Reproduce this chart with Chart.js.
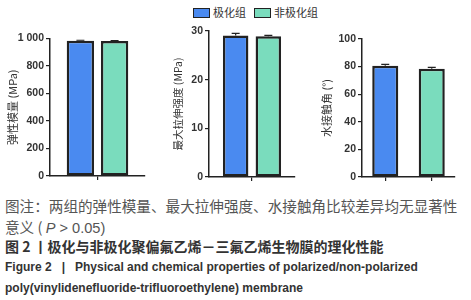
<!DOCTYPE html>
<html>
<head>
<meta charset="utf-8">
<script src="https://cdn.jsdelivr.net/npm/chart.js@4"></script>
<style>
  body { margin: 0; width: 471px; height: 300px; background: #fff; position: relative; overflow: hidden; font-family: 'Noto Sans CJK SC', sans-serif; }
  .pane { position: absolute; }
  #legend { position: absolute; top: 4px; left: 193px; font-size: 11px; color: #333; white-space: nowrap; line-height: 16px; }
  #legend span.box { display: inline-block; width: 15px; height: 8px; border: 1px solid #222; vertical-align: -1px; margin-right: 3px; }
  #legend span.item { margin-right: 8px; }
  .cap { position: absolute; left: 5px; white-space: nowrap; line-height: 16px; }
  .cn { font-size: 14.6px; color: #555; }
  .cnb { font-size: 14px; color: #333; font-weight: bold; }
  .en { font-family: 'Liberation Sans', sans-serif; font-weight: bold; font-size: 12px; color: #333; transform-origin: left; }
</style>
</head>
<body>
<div id="legend"></div>
<div class="pane" style="left:0;top:30px;width:150px;height:155px"><canvas id="c1"></canvas></div>
<div class="pane" style="left:160px;top:20px;width:140px;height:166px"><canvas id="c2"></canvas></div>
<div class="pane" style="left:310px;top:25px;width:155px;height:161px"><canvas id="c3"></canvas></div>

<div class="cap cn" style="top:198px">图注：两组的弹性模量、最大拉伸强度、水接触角比较差异均无显著性</div>
<div class="cap cn" style="top:219px">意义 ( <i style="font-family:'Liberation Sans'">P</i><span style="font-family:'Liberation Sans'"> &gt; 0.05)</span></div>
<div class="cap cnb" style="top:238px">图 2 丨极化与非极化聚偏氟乙烯－三氟乙烯生物膜的理化性能</div>
<div class="cap en" id="en1" style="top:259px">Figure 2&nbsp;&nbsp;&nbsp;|&nbsp;&nbsp;&nbsp;Physical and chemical properties of polarized/non-polarized</div>
<div class="cap en" style="top:280px">poly(vinylidenefluoride-trifluoroethylene) membrane</div>

<script>
// ---- data ----
const groups = ['极化组', '非极化组'];
const colors = ['#4a8af0', '#7adcbd'];
const titles = ['弹性模量 (MPa)', '最大拉伸强度 (MPa)', '水接触角 (°)'];
const yMax = [1000, 30, 100];
const yStep = [200, 10, 20];
const polarized = [982, 29.1, 80.6];
const nonPolarized = [981, 28.9, 78.5];
const polarizedErr = [4, 0.4, 1.0];
const nonPolarizedErr = [3, 0.2, 0.9];

const ink = '#222';
const tickFont = { family: 'Liberation Sans', size: 10.5, weight: 'bold' };

document.getElementById('legend').innerHTML = groups.map((g, i) =>
  `<span class="item"><span class="box" style="background:${colors[i]}"></span>${g}</span>`).join('');

// error bar caps drawn from the error arrays via the chart scales
const errPlugin = {
  id: 'err',
  afterDatasetsDraw(chart) {
    const c = chart.ctx, y = chart.scales.y;
    c.save();
    c.strokeStyle = ink; c.lineWidth = 1.2;
    chart.data.datasets.forEach((ds, di) => {
      chart.getDatasetMeta(di).data.forEach((bar, i) => {
        const v = ds.data[i], e = ds.err[i];
        if (v == null) return;
        const top = y.getPixelForValue(v + e);
        c.beginPath();
        c.moveTo(bar.x, bar.y); c.lineTo(bar.x, top);
        c.moveTo(bar.x - 4, top); c.lineTo(bar.x + 4, top);
        c.stroke();
      });
    });
    c.restore();
  }
};

function makeChart(id, k, opt) {
  let labels, datasets;
  if (opt.split) {
    labels = ['a', 'b'];
    datasets = [{
      data: [polarized[k], nonPolarized[k]], err: [polarizedErr[k], nonPolarizedErr[k]],
      backgroundColor: colors, borderColor: ink, borderWidth: 2.5, borderSkipped: false,
      barPercentage: opt.bp, categoryPercentage: 1
    }];
  } else {
    labels = ['a'];
    datasets = [
      { data: [polarized[k]], err: [polarizedErr[k]], backgroundColor: colors[0] },
      { data: [nonPolarized[k]], err: [nonPolarizedErr[k]], backgroundColor: colors[1] }
    ].map(d => ({ ...d, borderColor: ink, borderWidth: 2.5, borderSkipped: false,
      barPercentage: opt.bp, categoryPercentage: opt.cp }));
  }
  return new Chart(document.getElementById(id), {
    type: 'bar',
    data: { labels, datasets },
    options: {
      responsive: true, maintainAspectRatio: false, animation: false,
      layout: { padding: { top: opt.top, right: opt.right, left: 0, bottom: 0 } },
      plugins: { legend: { display: false }, tooltip: { enabled: false } },
      scales: {
        x: {
          grid: { display: true, drawOnChartArea: false, offset: false, tickLength: 4, color: ink, lineWidth: 1.2 },
          border: { color: ink, width: 1.5 },
          ticks: { display: false },
          afterFit: s => { s.height = 9; }
        },
        y: {
          min: 0, max: yMax[k],
          grid: { drawOnChartArea: false, tickLength: 4, color: ink, lineWidth: 1.2 },
          border: { color: ink, width: 1.5 },
          ticks: {
            stepSize: yStep[k], color: '#333', font: tickFont, padding: 2,
            callback: v => v >= 1000 ? '1 000' : v
          },
          title: { display: true, text: titles[k], color: '#333', font: { family: 'Noto Sans CJK SC', size: opt.ts }, padding: { top: opt.tp, bottom: 0 } },
          afterFit: s => { s.width = opt.yw; }
        }
      }
    },
    plugins: [errPlugin]
  });
}

makeChart('c1', 0, { yw: 50, top: 8, right: 5, cp: 0.72, bp: 0.8, ts: 11, tp: 6 });
makeChart('c2', 1, { yw: 49, top: 11, right: 5, cp: 0.76, bp: 0.78, ts: 10.5, tp: 12 });
makeChart('c3', 2, { yw: 52, top: 14, right: 10, split: true, bp: 0.56, ts: 11, tp: 10 });

// squeeze english line to the caption width
const en = document.getElementById('en1');
const w = en.getBoundingClientRect().width;
if (w > 457) en.style.transform = `scaleX(${457 / w})`;
</script>
</body>
</html>
